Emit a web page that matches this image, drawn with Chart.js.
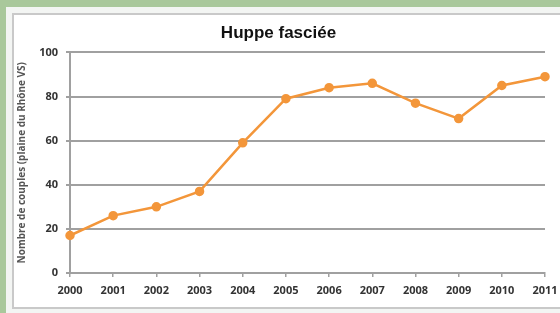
<!DOCTYPE html>
<html>
<head>
<meta charset="utf-8">
<script src="https://cdn.jsdelivr.net/npm/chart.js@4.4.1/dist/chart.umd.min.js"></script>
<style>
  html, body { margin: 0; padding: 0; }
  body { width: 560px; height: 313px; background: #a9c89b; position: relative; overflow: hidden; }
  .frame { position: absolute; left: 6px; top: 7px; width: 560px; height: 306px; background: #f3f5f3; }
  .panel { position: absolute; left: 12px; top: 13px; width: 560px; height: 296px; background: #fff; border: 2px solid #c9c9c9; box-sizing: border-box; }
  canvas { position: absolute; left: 0; top: 0; }
</style>
</head>
<body>
<div class="frame"></div>
<div class="panel"></div>
<canvas id="chart" width="560" height="313"></canvas>
<script>
// Huppe fasciée - couples nicheurs, plaine du Rhône VS
const years = ['2000', '2001', '2002', '2003', '2004', '2005', '2006', '2007', '2008', '2009', '2010', '2011'];
const couples = [17, 26, 30, 37, 59, 79, 84, 86, 77, 70, 85, 89];
const yTicks = [0, 20, 40, 60, 80, 100];

const orange = '#f3963a';
const gray = '#a0a0a0';

document.addEventListener('DOMContentLoaded', () => {
  const ctx = document.getElementById('chart');
  new Chart(ctx, {
    type: 'line',
    data: {
      labels: years,
      datasets: [{
        data: couples,
        borderColor: orange,
        backgroundColor: orange,
        borderWidth: 2.5,
        pointRadius: 3.5,
        pointHoverRadius: 3.5,
        tension: 0
      }]
    },
    options: {
      responsive: false,
      animation: false,
      layout: { padding: { left: 12, right: 15, top: 23, bottom: 3 } },
      plugins: {
        legend: { display: false },
        tooltip: { enabled: false },
        title: {
          display: true,
          text: 'Huppe fasciée',
          color: '#111',
          font: { family: 'Liberation Sans', size: 17, weight: 'bold' },
          padding: { top: 0, bottom: 9 }
        }
      },
      scales: {
        x: {
          offset: false,
          grid: { drawOnChartArea: false, drawTicks: true, tickLength: 4, color: gray, lineWidth: 1.5 },
          border: { display: true, color: gray, width: 2 },
          ticks: {
            color: '#333',
            font: { family: 'Open Sans', size: 11, weight: 'bold' },
            maxRotation: 0,
            autoSkip: false,
            padding: 7
          },
          afterFit: scale => {
            scale.height = 37;
            scale.paddingRight = 0;
          }
        },
        y: {
          min: 0,
          max: 100,
          afterBuildTicks: scale => { scale.ticks = yTicks.map(v => ({ value: v })); },
          grid: { color: gray, lineWidth: 2, drawTicks: true, tickLength: 4 },
          border: { display: true, color: gray, width: 2 },
          ticks: {
            color: '#333',
            font: { family: 'Open Sans', size: 11, weight: 'bold' },
            padding: 8
          },
          title: {
            display: true,
            text: 'Nombre de couples (plaine du Rhône VS)',
            color: '#555',
            font: { family: 'Open Sans', size: 10, weight: 'bold' },
            padding: { top: 4, bottom: 0 }
          },
          afterFit: scale => { scale.width = 58; }
        }
      }
    }
  });
});
</script>
</body>
</html>
